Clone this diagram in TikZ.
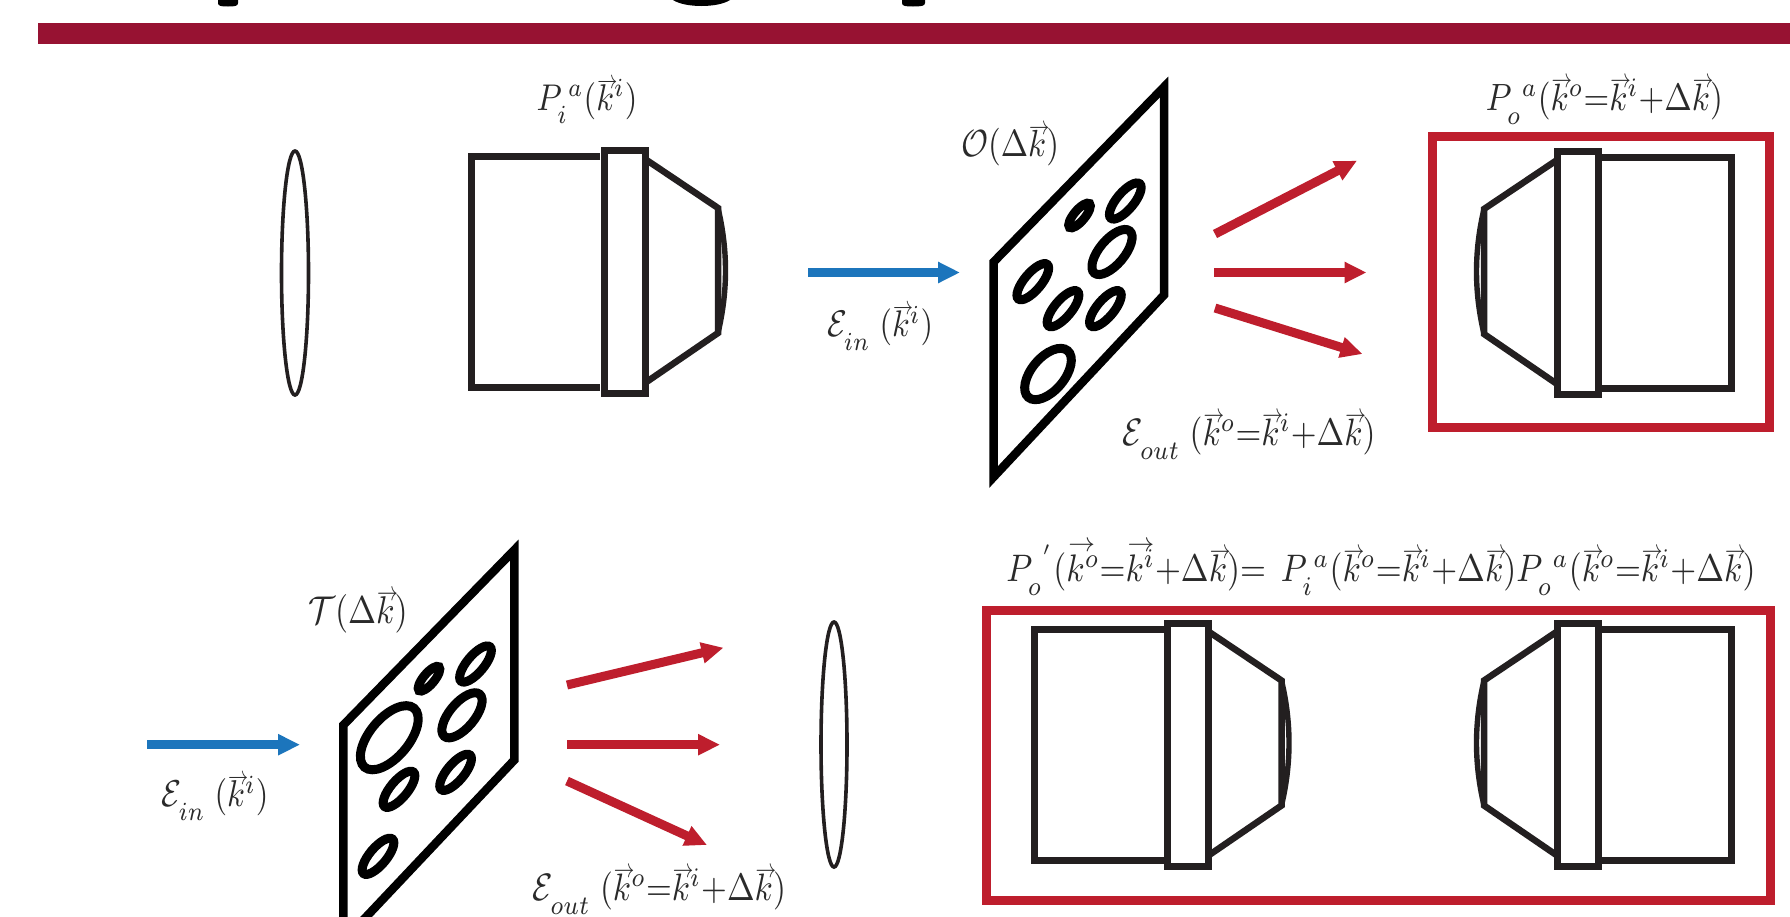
\documentclass[tikz,border=0pt]{standalone}
\usepackage{graphicx}
\usetikzlibrary{arrows.meta}
\definecolor{barred}{HTML}{971232}
\definecolor{boxred}{HTML}{BE1E2D}
\definecolor{beamblue}{HTML}{1C75BC}
\definecolor{inkblack}{HTML}{231F20}
\definecolor{txtgrey}{HTML}{2A2A2A}
\newcommand{\lowsub}[1]{_{\lower 2.2pt\hbox{$\scriptstyle #1$}}}
\newcommand{\vk}{\rlap{\kern0.3pt\raisebox{5.9pt}{\scalebox{.62}[.7]{$\rightarrow$}}}k}
\newcommand{\vkw}{\rlap{\kern0.6pt\raisebox{7.6pt}{\scalebox{.8}[.7]{$\rightarrow$}}}k}
\newcommand{\lbl}[2]{\scalebox{1}[1.15]{\resizebox{#1pt}{!}{$#2$}}}
\newcommand{\objective}[1]{%
  \begin{scope}[#1]
    \draw[objline] (600,156.5) -- (471,156.5) -- (471,387.5) -- (600,387.5);
    \draw[objline] (604,150.5) rectangle (645,393.5);
    \draw[objline,line width=6.5pt,line join=miter] (645,159) -- (718,208) -- (718,333) -- (645,383);
    \draw[objthin] (718,208) .. controls (728,250) and (728,291) .. (718,333);
  \end{scope}}
\tikzset{
  x=1pt,y=-1pt,
  objline/.style={draw=inkblack,line width=7pt,line join=miter},
  objthin/.style={draw=inkblack,line width=5.4pt},
  lensline/.style={draw=inkblack,line width=3.6pt},
  plate/.style={draw=black,line width=8.5pt,line join=miter,miter limit=10},
  hole/.style={draw=black,line width=9pt},
  redbox/.style={draw=boxred,line width=9pt,line join=miter},
  redbeam/.style={draw=boxred,line width=9pt,-{Triangle[length=22pt,width=20pt]}},
  bluebeam/.style={draw=beamblue,line width=9pt,-{Triangle[length=22pt,width=20pt]}},
  lab/.style={anchor=base,inner sep=0pt,text=txtgrey},
}
\begin{document}
\begin{tikzpicture}
\useasboundingbox (0,0) rectangle (1790,916);
\clip (0,0) rectangle (1790,916);
\fill[white] (0,0) rectangle (1790,916);
% clipped title descenders and rule
\fill[black] (218,0) -- (218,3) .. controls (218,6) and (221,6.5) .. (228,6.5) .. controls (235,6.5) and (238,6) .. (238,3) -- (238,0) -- cycle;
\fill[black] (673,0) .. controls (685,8) and (718,8) .. (730,0) -- cycle;
\fill[black] (902,0) -- (902,3) .. controls (902,6) and (905,6.5) .. (913,6.5) .. controls (921,6.5) and (925,6) .. (925,3) -- (925,0) -- cycle;
\fill[barred] (38,23) rectangle (1790,44.3);

% top row
\draw[lensline] (295,273) ellipse [x radius=13.5pt,y radius=122pt];
\objective{}
\coordinate (bi1) at (808,272.5); \coordinate (bo1) at (960,272.5);
\draw[bluebeam] (bi1) -- (bo1);
\draw[plate] (1164,87) -- (993.6,262) -- (993.6,477) -- (1164,295) -- cycle;
\foreach \cx/\cy/\ra/\rb in {1079.5/215.5/15.5/5.5, 1125.3/201/22.5/8.5, 1112/252/27.5/12.5, 1032.8/281.7/22.5/8.5, 1063/308.7/22.5/8.5, 1105.4/308.7/22.5/8.5, 1048/374/30.5/16.5}
  \draw[hole] (\cx,\cy) ellipse [x radius=\ra pt,y radius=\rb pt,rotate=50];
\coordinate (ru1) at (1215,234); \coordinate (ru2) at (1357,160.7);
\coordinate (rm1) at (1214,272.5); \coordinate (rm2) at (1366.5,272.5);
\coordinate (rl1) at (1215,308); \coordinate (rl2) at (1362.5,354);
\draw[redbeam] (ru1) -- (ru2);
\draw[redbeam] (rm1) -- (rm2);
\draw[redbeam] (rl1) -- (rl2);
\draw[redbox] (1432.5,136.5) rectangle (1769.5,427.5);
\objective{xshift=2202pt,xscale=-1,yshift=-1pt}

% bottom row
\coordinate (bi2) at (147.4,744.7); \coordinate (bo2) at (300,744.7);
\draw[bluebeam] (bi2) -- (bo2);
\draw[plate] (514.3,550) -- (343.4,725) -- (343.4,941) -- (514.3,760) -- cycle;
\foreach \cx/\cy/\ra/\rb in {429/678.7/15.5/5.5, 475.5/664/22.5/8.5, 462/715.3/27.5/12.5, 389.3/737.7/38.5/19.5, 455.6/772.3/22.5/8.5, 399/789.3/22.5/8.5, 378/856.3/22.5/8.5}
  \draw[hole] (\cx,\cy) ellipse [x radius=\ra pt,y radius=\rb pt,rotate=50];
\coordinate (su1) at (567,685); \coordinate (su2) at (723.5,647.7);
\coordinate (sm1) at (567,744.7); \coordinate (sm2) at (720,744.7);
\coordinate (sl1) at (567,781); \coordinate (sl2) at (707,845);
\draw[redbeam] (su1) -- (su2);
\draw[redbeam] (sm1) -- (sm2);
\draw[redbeam] (sl1) -- (sl2);
\draw[lensline] (834,744.5) ellipse [x radius=13pt,y radius=122.5pt];
\draw[redbox] (986.5,610.5) rectangle (1770.5,900.5);
\objective{xshift=563.5pt,yshift=-472.5pt}
\objective{xshift=2202pt,xscale=-1,yshift=-472.5pt}

% labels
\node[lab] (t1) at (587,110) {\lbl{101}{P\lowsub{i}{}^{a}(\vk^{i})}};
\node[lab] (t2) at (1010,156.7) {\lbl{98}{\mathcal{O}(\Delta\vk)}};
\node[lab] (t3) at (1604.4,110) {\lbl{237}{P\lowsub{o}{}^{a}(\vk^{o}{=}\vk^{i}{+}\Delta\vk)}};
\node[lab] (t4) at (1249,445) {\lbl{253}{\mathcal{E}\lowsub{out}\;(\vk^{o}{=}\vk^{i}{+}\Delta\vk)}};
\node[lab] (t5) at (880,336.7) {\lbl{106}{\mathcal{E}\lowsub{in}\;(\vk^{i})}};
\node[lab] (t6) at (358,623) {\lbl{99.6}{\mathcal{T}(\Delta\vk)}};
\node[lab] (t7) at (215,806.7) {\lbl{107}{\mathcal{E}\lowsub{in}\;(\vk^{i})}};
\node[lab] (t8) at (659.4,900) {\lbl{253}{\mathcal{E}\lowsub{out}\;(\vk^{o}{=}\vk^{i}{+}\Delta\vk)}};
\node[lab] (t9) at (1381,581) {\lbl{749}{P\lowsub{o}{}^{'}(\vkw^{o}{=}\vkw^{i}{+}\Delta\vk){=}\;\,P\lowsub{i}{}^{a}(\vk^{o}{=}\vk^{i}{+}\Delta\vk)P\lowsub{o}{}^{a}(\vk^{o}{=}\vk^{i}{+}\Delta\vk)}};
\end{tikzpicture}
\end{document}
